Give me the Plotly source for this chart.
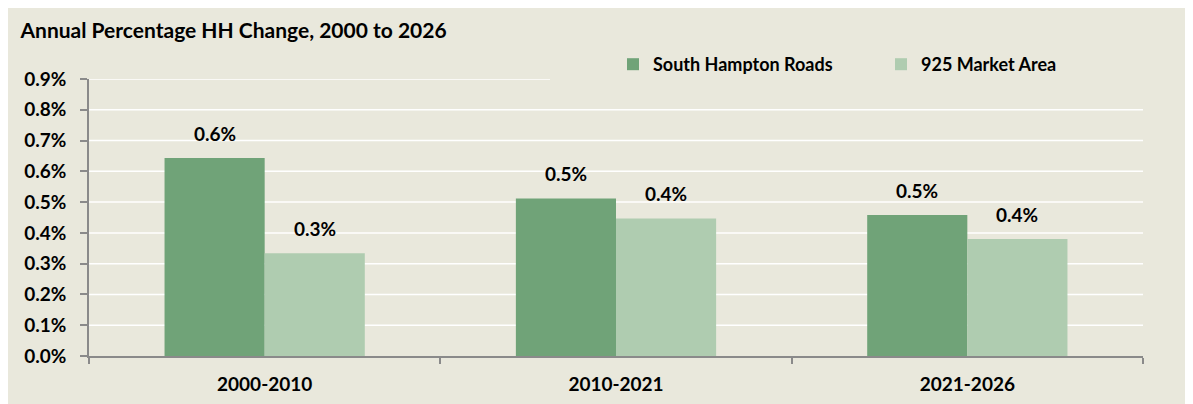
import plotly.graph_objects as go

# ── data ────────────────────────────────────────────────────
periods = ['2000-2010', '2010-2021', '2021-2026']
south_hampton = [0.00643, 0.00512, 0.00458]
market_925 = [0.00334, 0.00447, 0.00380]
series_names = ['South Hampton Roads', '925 Market Area']
y_ticks = [0.000, 0.001, 0.002, 0.003, 0.004, 0.005, 0.006, 0.007, 0.008, 0.009]

# ── style ───────────────────────────────────────────────────
BG = '#e9e8dc'
DARK = '#70a378'
LIGHT = '#afccb0'
AXIS = '#8a8a8a'
FONT = 'Lato'

# page body keeps its default 8px margin, so the figure fills the rest
W, H = 1185, 396
M = dict(l=81, r=50, t=71, b=48, autoexpand=False)
PW = W - M['l'] - M['r']
PH = H - M['t'] - M['b']
BAR_W = 0.285          # fraction of a category for each bar
LEGEND_LEFT = 542      # px where the legend strip begins (hides top gridline)

fig = go.Figure()
for name, vals, col in [(series_names[0], south_hampton, DARK),
                        (series_names[1], market_925, LIGHT)]:
    fig.add_trace(go.Bar(
        x=periods, y=vals, name=name,
        marker=dict(color=col, line=dict(width=0)),
        hoverinfo='skip',
    ))

# value labels above bars
for i, p in enumerate(periods):
    for vals, off in [(south_hampton, -BAR_W / 2), (market_925, BAR_W / 2)]:
        fig.add_annotation(
            x=i + off, y=vals[i], xref='x', yref='y',
            text=f'{vals[i] * 100:.1f}%', showarrow=False,
            yanchor='bottom', yshift=11,
            font=dict(family=FONT, size=19, color='#000', weight='bold'),
        )

# white gridlines; the top one stops where the legend strip begins
for v in y_ticks[1:]:
    x1 = (LEGEND_LEFT - M['l']) / PW if v == y_ticks[-1] else 1.0
    fig.add_shape(
        type='line', xref='paper', yref='y', layer='below',
        x0=0, x1=x1, y0=v, y1=v,
        line=dict(color='white', width=1.5),
    )

fig.update_layout(
    width=W, height=H,
    margin=M,
    paper_bgcolor=BG,
    plot_bgcolor=BG,
    barmode='group',
    bargap=1 - 2 * BAR_W,
    bargroupgap=0,
    title=dict(
        text='Annual Percentage HH Change, 2000 to 2026',
        xref='container', yref='container',
        x=12.5 / W, xanchor='left', y=1 - 23 / H, yanchor='middle',
        font=dict(family=FONT, size=21, color='#000', weight='bold'),
    ),
    legend=dict(
        orientation='h',
        x=(605 - M['l']) / PW, xanchor='left',
        y=1 + (M['t'] - 56.5) / PH, yanchor='middle',
        bgcolor='rgba(0,0,0,0)',
        entrywidth=223,
        font=dict(family=FONT, size=18, color='#000', weight='bold'),
        itemclick=False, itemdoubleclick=False,
    ),
    font=dict(family=FONT, color='#000'),
    hovermode=False,
)

fig.update_xaxes(
    type='category',
    showgrid=False,
    showline=True, linecolor=AXIS, linewidth=1.5,
    ticks='outside', tickson='boundaries', ticklen=6,
    tickcolor=AXIS, tickwidth=1.5,
    ticklabelstandoff=10,
    tickfont=dict(family=FONT, size=19, color='#000', weight='bold'),
    fixedrange=True,
)
fig.update_yaxes(
    range=[0, 0.009],
    tickvals=y_ticks,
    tickformat='.1%',
    showgrid=False,
    zeroline=False,
    showline=True, linecolor=AXIS, linewidth=1.5,
    ticks='outside', ticklen=7, tickcolor=AXIS, tickwidth=1.5,
    ticklabelstandoff=10,
    tickfont=dict(family=FONT, size=19, color='#000', weight='bold'),
    fixedrange=True,
)

fig.write_html('out.html', config=dict(displayModeBar=False))
